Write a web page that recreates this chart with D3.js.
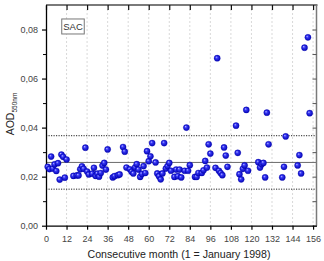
<!DOCTYPE html>
<html><head><meta charset="utf-8">
<script src="https://cdn.jsdelivr.net/npm/d3@7"></script>
<style>
html,body{margin:0;padding:0;background:#fff;}
svg{display:block;font-family:"Liberation Sans",Arial,sans-serif;}
</style></head>
<body><svg id="c" width="324" height="261"></svg>
<script>
// Consecutive month (1 = January 1998)
const months = [1,2,3,4,5,6,7,8,9,10,11,12,
 16,18,19,20,21,22,23,24,25,27,28,29,30,31,32,33,34,35,36,
 39,40,42,43,45,46,47,49,50,51,52,53,54,55,56,57,58,59,60,61,62,
 64,65,66,67,68,69,70,71,72,73,75,76,77,78,79,81,82,83,84,
 87,88,89,91,92,93,94,95,96,99,100,101,102,103,104,105,106,
 111,112,113,114,115,116,117,118,124,125,126,127,128,129,130,
 138,139,140,147,148,149,151,153,154];
// AOD 550 nm
const aod = [0.0240,0.0231,0.0282,0.0233,0.0250,0.0223,0.0255,0.0188,0.0290,0.0281,0.0196,0.0270,
 0.0203,0.0205,0.0205,0.0230,0.0242,0.0232,0.0318,0.0221,0.0209,0.0212,0.0236,0.0203,0.0212,0.0200,0.0215,0.0245,0.0256,0.0229,0.0311,
 0.0197,0.0202,0.0206,0.0209,0.0321,0.0302,0.0237,0.0230,0.0220,0.0213,0.0237,0.0251,0.0229,0.0199,0.0211,0.0243,0.0215,0.0304,0.0263,0.0283,0.0337,
 0.0258,0.0213,0.0202,0.0189,0.0213,0.0337,0.0233,0.0243,0.0256,0.0224,0.0199,0.0229,0.0202,0.0229,0.0197,0.0224,0.0400,0.0224,0.0247,
 0.0199,0.0199,0.0215,0.0215,0.0226,0.0264,0.0237,0.0332,0.0294,0.0236,0.0683,0.0224,0.0215,0.0206,0.0319,0.0286,0.0240,
 0.0408,0.0297,0.0210,0.0189,0.0232,0.0246,0.0472,0.0224,0.0259,0.0237,0.0251,0.0256,0.0197,0.0461,0.0332,
 0.0197,0.0240,0.0364,0.0246,0.0288,0.0213,0.0726,0.0768,0.0459];
// reference lines: mean and mean ± standard deviation
const meanLine = [0.0258];
const sdLines = [0.0367, 0.0149];
const xTicks = [0,12,24,36,48,60,72,84,96,108,120,132,144,156];
const yTicks = [0.00,0.02,0.04,0.06,0.08];
const yMinor = [0.01,0.03,0.05,0.07];
const station = "SAC";

const svg = d3.select("#c");
const L=46, R=316.5, T=5, B=225.7;
const x = d3.scaleLinear().domain([0,158]).range([L,R]);
const y = d3.scaleLinear().domain([0,0.09]).range([B,T]);
const loc = d3.formatLocale({decimal:",",thousands:".",grouping:[3],currency:["",""]});
const fy = loc.format(".2f");

const defs = svg.append("defs");
const g = defs.append("radialGradient").attr("id","ball").attr("cx","50%").attr("cy","50%").attr("r","55%").attr("fx","35%").attr("fy","32%");
g.append("stop").attr("offset","0%").attr("stop-color","#b8b8ff");
g.append("stop").attr("offset","35%").attr("stop-color","#3535f5");
g.append("stop").attr("offset","100%").attr("stop-color","#0000a8");

// vertical grid
svg.append("g").selectAll("line").data(xTicks.filter(d=>d>0)).join("line")
  .attr("x1",d=>x(d)).attr("x2",d=>x(d)).attr("y1",T).attr("y2",B)
  .attr("stroke","#cfcfcf").attr("stroke-width",0.8).attr("stroke-dasharray","2,2");

// reference lines
svg.append("g").selectAll("line").data(meanLine).join("line")
  .attr("x1",L).attr("x2",R).attr("y1",d=>y(d)).attr("y2",d=>y(d))
  .attr("stroke","#6a6a6a").attr("stroke-width",1);
svg.append("g").selectAll("line").data(sdLines).join("line")
  .attr("x1",L).attr("x2",R).attr("y1",d=>y(d)).attr("y2",d=>y(d))
  .attr("stroke","#222").attr("stroke-width",1).attr("stroke-dasharray","1.2,1.3");

// top and right frame (gray)
svg.append("line").attr("x1",L).attr("x2",R+1).attr("y1",T).attr("y2",T).attr("stroke","#7a7a7a").attr("stroke-width",2);
svg.append("line").attr("x1",R).attr("x2",R).attr("y1",T).attr("y2",B).attr("stroke","#7a7a7a").attr("stroke-width",1.5);

// top ticks (inward)
svg.append("g").attr("transform",`translate(0,${T})`)
  .call(d3.axisBottom(x).tickValues(xTicks).tickSize(5).tickFormat(""))
  .call(a=>{a.select(".domain").remove(); a.selectAll("line").attr("stroke","#111").attr("stroke-width",1.2);});
// right ticks (inward)
svg.append("g").attr("transform",`translate(${R},0)`)
  .call(d3.axisLeft(y).tickValues(yTicks.concat(yMinor)).tickSize(4).tickFormat(""))
  .call(a=>{a.select(".domain").remove(); a.selectAll("line").attr("stroke","#555");});

// bottom axis
const xa = svg.append("g").attr("transform",`translate(0,${B})`)
  .call(d3.axisBottom(x).tickValues(xTicks).tickSize(4).tickPadding(6).tickFormat(d3.format("d")).tickSizeOuter(0));
xa.select(".domain").attr("stroke","#000").attr("stroke-width",1.3);
xa.selectAll(".tick line").attr("stroke","#000").attr("stroke-width",1.2);
xa.selectAll("text").attr("font-size",9).attr("fill","#444").attr("font-family","Liberation Sans, Arial, sans-serif");

// left axis
const ya = svg.append("g").attr("transform",`translate(${L},0)`)
  .call(d3.axisLeft(y).tickValues(yTicks).tickSize(4).tickPadding(4).tickFormat(fy).tickSizeOuter(0));
ya.select(".domain").attr("stroke","#000").attr("stroke-width",1.3);
ya.selectAll(".tick line").attr("stroke","#000").attr("stroke-width",1.2);
ya.selectAll("text").attr("font-size",9).attr("fill","#444").attr("font-family","Liberation Sans, Arial, sans-serif");
svg.append("g").attr("transform",`translate(${L},0)`)
  .call(d3.axisLeft(y).tickValues(yMinor).tickSize(3).tickFormat(""))
  .call(a=>{a.select(".domain").remove(); a.selectAll("line").attr("stroke","#000");});

// points
const data = months.map((m,i)=>({m, v:aod[i]}));
svg.append("g").selectAll("circle").data(data).join("circle")
  .attr("cx",d=>x(d.m)).attr("cy",d=>y(d.v)).attr("r",3.1)
  .attr("fill","url(#ball)").attr("stroke","#0000c0").attr("stroke-width",0.3);

// station label box
const lb = svg.append("g");
lb.append("rect").attr("x",x(9.2)).attr("y",y(0.0843)).attr("width",22.5).attr("height",15)
  .attr("fill","#fff").attr("stroke","#777").attr("stroke-width",1);
lb.append("text").attr("x",x(9.2)+11.25).attr("y",y(0.0843)+11).attr("text-anchor","middle")
  .attr("font-size",9.5).attr("fill","#333").text(station);

// axis titles
svg.append("text").attr("x",179).attr("y",257.5).attr("text-anchor","middle")
  .attr("font-size",10.6).attr("fill","#222").text("Consecutive month (1 = January 1998)");
const yl = svg.append("text").attr("transform","translate(14,114) rotate(-90)").attr("text-anchor","middle")
  .attr("font-size",10.5).attr("fill","#222");
yl.append("tspan").text("AOD");
yl.append("tspan").attr("font-size",6.5).attr("dy",2.5).text("550nm");
</script>
</body></html>
